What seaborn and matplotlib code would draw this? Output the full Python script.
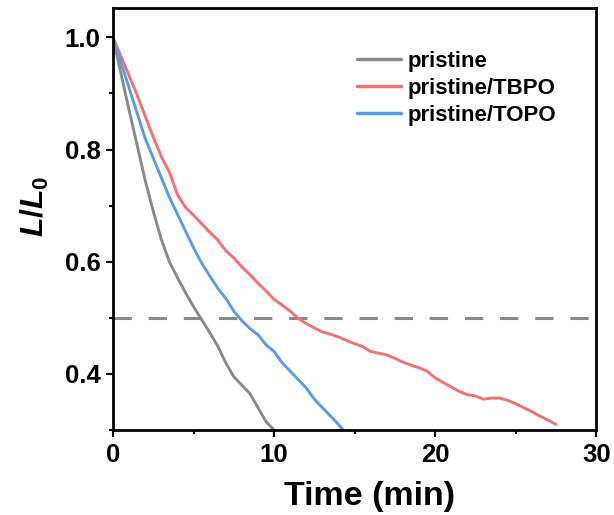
import numpy as np
import pandas as pd
import matplotlib
matplotlib.use("Agg")
import matplotlib.pyplot as plt
import seaborn as sns
from matplotlib.ticker import MultipleLocator

sns.set_theme(style="white")
plt.rcParams['font.family'] = ['Liberation Sans', 'DejaVu Sans']
plt.rcParams['mathtext.fontset'] = 'custom'
plt.rcParams['mathtext.it'] = 'Liberation Sans:italic:bold'
plt.rcParams['mathtext.bf'] = 'Liberation Sans:bold'
plt.rcParams['mathtext.rm'] = 'Liberation Sans:bold'
for k in ['text.color', 'axes.labelcolor', 'xtick.color', 'ytick.color']:
    plt.rcParams[k] = 'black'

# ---- data ----
labels = ["pristine", "pristine/TBPO", "pristine/TOPO"]

t_pristine = [0, 0.5, 1, 1.5, 2, 2.5, 3, 3.5, 4, 4.5, 5, 5.5, 6, 6.5, 7, 7.5, 8, 8.5, 9, 9.5, 10]
y_pristine = [1.0, 0.935, 0.87, 0.808, 0.745, 0.69, 0.64, 0.60, 0.572, 0.545, 0.52, 0.497, 0.474, 0.45, 0.42,
              0.395, 0.38, 0.365, 0.34, 0.315, 0.30]

t_tbpo = [0, 0.5, 1, 1.5, 2, 2.5, 3, 3.5, 4, 4.5, 5, 5.5, 6, 6.5, 7, 7.5, 8, 8.5, 9, 9.5, 10, 10.5, 11,
          11.5, 12, 12.5, 13, 13.5, 14, 14.5, 15, 15.5, 16, 16.5, 17, 17.5, 18, 18.5, 19, 19.5, 20, 20.5,
          21, 21.5, 22, 22.5, 23, 23.5, 24, 24.5, 25, 25.5, 26, 26.5, 27, 27.5]
y_tbpo = [1.0, 0.966, 0.932, 0.897, 0.86, 0.822, 0.788, 0.76, 0.72, 0.697, 0.683, 0.668, 0.653, 0.639,
          0.62, 0.607, 0.591, 0.577, 0.562, 0.548, 0.533, 0.523, 0.512, 0.499, 0.49, 0.482, 0.475, 0.471,
          0.466, 0.46, 0.454, 0.449, 0.44, 0.437, 0.434, 0.428, 0.421, 0.416, 0.411, 0.405, 0.393, 0.385,
          0.377, 0.369, 0.363, 0.361, 0.355, 0.357, 0.357, 0.353, 0.347, 0.34, 0.333, 0.325, 0.318, 0.31]

t_topo = [0, 0.5, 1, 1.5, 2, 2.5, 3, 3.5, 4, 4.5, 5, 5.5, 6, 6.5, 7, 7.5, 8, 8.5, 9, 9.5, 10, 10.5, 11,
          11.5, 12, 12.5, 13, 13.5, 14, 14.3]
y_topo = [1.0, 0.955, 0.91, 0.865, 0.82, 0.785, 0.75, 0.715, 0.685, 0.655, 0.625, 0.598, 0.575, 0.553,
          0.535, 0.512, 0.495, 0.481, 0.47, 0.452, 0.44, 0.42, 0.405, 0.39, 0.375, 0.355, 0.34, 0.325,
          0.31, 0.30]

ref_level = 0.5
colors = ["#8a8a8a", "#f27272", "#5b9bea"]

df = pd.concat([
    pd.DataFrame({"Time": t_pristine, "L": y_pristine, "sample": labels[0]}),
    pd.DataFrame({"Time": t_tbpo, "L": y_tbpo, "sample": labels[1]}),
    pd.DataFrame({"Time": t_topo, "L": y_topo, "sample": labels[2]}),
], ignore_index=True)

fig = plt.figure(figsize=(6.14, 5.15), dpi=100)
ax = fig.add_axes([0.184, 0.165, 0.787, 0.819])

sns.lineplot(data=df, x="Time", y="L", hue="sample", palette=dict(zip(labels, colors)),
             estimator=None, sort=False, linewidth=2.1, ax=ax)

ax.axhline(ref_level, color="#8a8a8a", linewidth=2.2, dashes=(6, 5.5), zorder=0)

ax.set_xlim(0, 30)
ax.set_ylim(0.3, 1.052)
ax.xaxis.set_minor_locator(MultipleLocator(5))
ax.yaxis.set_minor_locator(MultipleLocator(0.1))
ax.set_yticks([0.4, 0.6, 0.8, 1.0])
ax.set_yticklabels(["0.4", "0.6", "0.8", "1.0"])
ax.set_xticks([0, 10, 20, 30])
ax.set_xticklabels(["0", "10", "20", "30"])

ax.tick_params(which="major", direction="out", length=5, width=1.5, labelsize=18.5, pad=4,
               bottom=True, left=True, top=False, right=False)
ax.tick_params(which="minor", direction="out", length=3, width=1.5,
               bottom=True, left=True, top=False, right=False)
for lab in ax.get_xticklabels() + ax.get_yticklabels():
    lab.set_fontweight("bold")
for s in ax.spines.values():
    s.set_linewidth(2.0)
    s.set_color("black")

ax.set_xlabel("Time (min)", fontsize=24.5, fontweight="bold")
ax.xaxis.set_label_coords(0.530, -0.122)
ax.set_ylabel(r"$\mathit{L/L}_{\mathbf{0}}$", fontsize=23)
ax.yaxis.set_label_coords(-0.128, 0.531)

leg = ax.legend(loc="upper left", bbox_to_anchor=(0.5045, 0.898), frameon=False,
                borderpad=0, borderaxespad=0, handlelength=2.0, handletextpad=0.3,
                labelspacing=0.255, prop={"weight": "bold", "size": 16})
for line in leg.get_lines():
    line.set_linewidth(2.5)

fig.savefig("out.png", dpi=100)
